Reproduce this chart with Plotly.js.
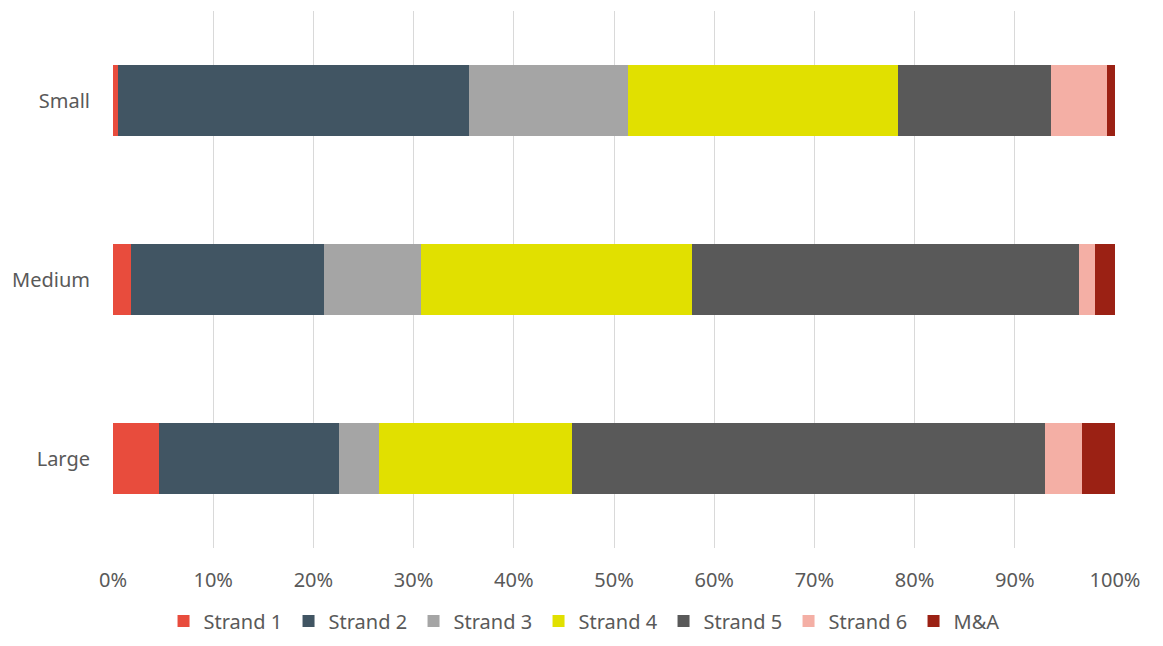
<!DOCTYPE html>
<html>
<head>
<meta charset="utf-8">
<script src="https://cdn.plot.ly/plotly-3.0.1.min.js"></script>
<style>html,body{margin:0;padding:0;background:#fff;}#chart{width:1163px;height:646px;}</style>
</head>
<body>
<div id="chart"></div>
<script>
const categories = ["Small", "Medium", "Large"];
const seriesNames = ["Strand 1", "Strand 2", "Strand 3", "Strand 4", "Strand 5", "Strand 6", "M&A"];
const strand1 = [0.5, 1.8, 4.6];
const strand2 = [35.0, 19.3, 18.0];
const strand3 = [15.9, 9.6, 3.9];
const strand4 = [26.9, 27.1, 19.3];
const strand5 = [15.35, 38.6, 47.2];
const strand6 = [5.55, 1.6, 3.75];
const mna = [0.8, 2.0, 3.25];
const xTickValues = [0, 10, 20, 30, 40, 50, 60, 70, 80, 90, 100];
const xTickLabels = ["0%", "10%", "20%", "30%", "40%", "50%", "60%", "70%", "80%", "90%", "100%"];

const colors = ["#E84C3D", "#415563", "#A5A5A5", "#E1E000", "#595959", "#F4AFA5", "#9B2114"];
const values = [strand1, strand2, strand3, strand4, strand5, strand6, mna];

const traces = values.map((v, i) => ({
  type: "bar",
  orientation: "h",
  name: seriesNames[i],
  y: categories,
  x: v,
  marker: {color: colors[i], line: {width: 0}},
  hoverinfo: "x+name"
}));

const font = "'Noto Sans', 'Open Sans', sans-serif";
const layout = {
  width: 1163, height: 646,
  barmode: "stack",
  bargap: 0.6,
  margin: {l: 113, r: 48, t: 11, b: 98, autoexpand: false},
  paper_bgcolor: "#fff",
  plot_bgcolor: "#fff",
  font: {family: font, size: 20, color: "#595959"},
  xaxis: {
    range: [0, 100],
    tickvals: xTickValues,
    ticktext: xTickLabels,
    showgrid: true,
    gridcolor: "#D9D9D9",
    gridwidth: 1,
    zeroline: false,
    showline: false,
    ticks: "",
    automargin: false,
    ticklabelstandoff: 18,
    tickfont: {family: font, size: 20, color: "#595959"},
    fixedrange: true
  },
  yaxis: {
    type: "category",
    categoryorder: "array",
    categoryarray: categories,
    autorange: "reversed",
    showgrid: false,
    zeroline: false,
    showline: false,
    ticks: "",
    automargin: false,
    ticklabelstandoff: 22,
    tickfont: {family: font, size: 20, color: "#595959"},
    fixedrange: true
  },
  showlegend: true,
  legend: {
    orientation: "h",
    xref: "container", yref: "container",
    x: 0.5168, xanchor: "center",
    y: 0.0387, yanchor: "middle",
    font: {family: font, size: 20, color: "#595959"},
    traceorder: "normal",
    itemwidth: 30,
    entrywidth: 80,
    entrywidthmode: "pixels",
    tracegroupgap: 0
  }
};

Plotly.newPlot("chart", traces, layout, {displayModeBar: false, staticPlot: true});
</script>
</body>
</html>
